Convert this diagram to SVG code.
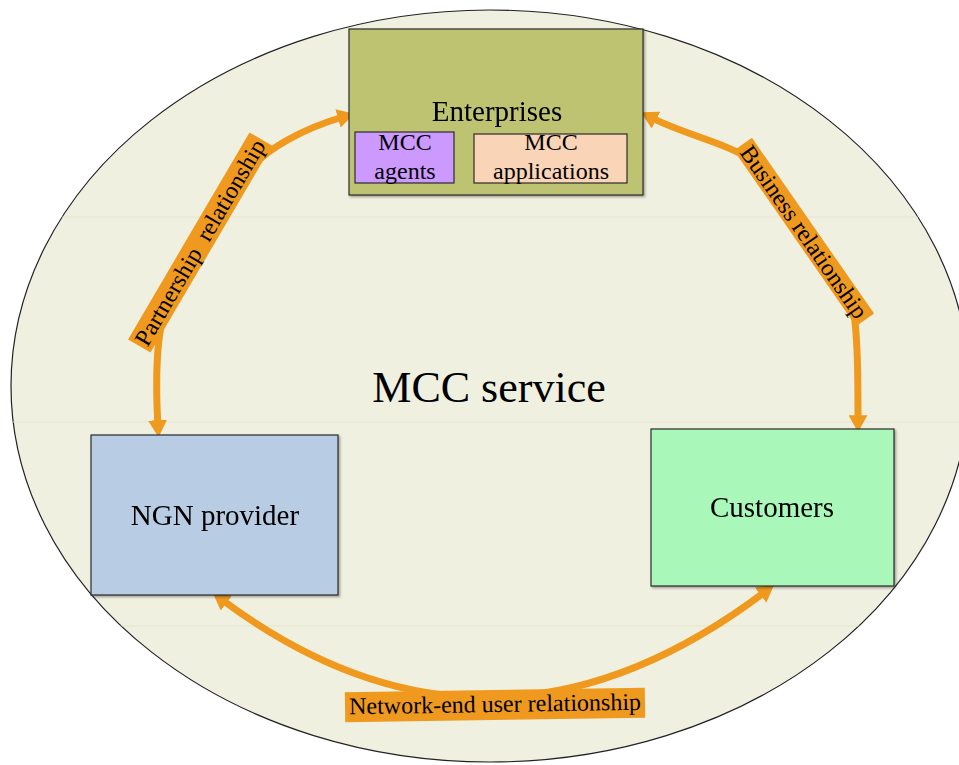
<svg xmlns="http://www.w3.org/2000/svg" width="959" height="765" viewBox="0 0 959 765">
  <style>
    .t { font-family: "Liberation Serif", "Times New Roman", serif; fill: #000; }
    .node { stroke: #2b2b2b; stroke-width: 1.2; }
    .conn { fill: none; stroke: #EF9A1E; stroke-width: 7; marker-start: url(#ah); marker-end: url(#ah); }
    .lbl { fill: #EF9A1E; }
    .grid { stroke: #E4E6CC; stroke-width: 1; }
  </style>
  <defs>
    <marker id="ah" viewBox="0 0 10 10" refX="4" refY="5" markerUnits="userSpaceOnUse" markerWidth="17" markerHeight="19" orient="auto-start-reverse" preserveAspectRatio="none">
      <path d="M0,0 L10,5 L0,10 z" fill="#EF9A1E"/>
    </marker>
    <clipPath id="ec">
      <ellipse cx="490" cy="386" rx="479" ry="376"/>
    </clipPath>
    <filter id="sh" x="-5%" y="-5%" width="110%" height="110%">
      <feDropShadow dx="1.5" dy="1.5" stdDeviation="1" flood-color="#000" flood-opacity="0.35"/>
    </filter>
  </defs>

  <rect width="959" height="765" fill="#fff"/>

  <g id="mcc-service">
    <ellipse cx="490" cy="386" rx="479" ry="376" fill="#EFF0E0" stroke="#222" stroke-width="1.2"/>
    <g clip-path="url(#ec)">
      <line class="grid" x1="0" y1="217" x2="959" y2="217"/>
      <line class="grid" x1="0" y1="422" x2="959" y2="422"/>
      <line class="grid" x1="0" y1="626" x2="959" y2="626"/>
    </g>
    <text class="t" x="489" y="402" font-size="44" text-anchor="middle">MCC service</text>
  </g>

  <g id="connectors">
    <path id="c-partnership" class="conn" d="M158,427 C155,375 157,338 164,313 L245,175 C265,148 305,128 344.5,116.5"/>
    <path id="c-business" class="conn" d="M650,117 C685,135 725,142 755,162 L852,302 C858,330 858,380 858,422"/>
    <path id="c-network" class="conn" d="M221,599 Q490,800 766,591"/>
  </g>

  <g id="enterprises" filter="url(#sh)">
    <rect class="node" x="349" y="29" width="294" height="166" fill="#BEC372"/>
    <text class="t" x="497" y="121" font-size="29" text-anchor="middle">Enterprises</text>
  </g>
  <g id="mcc-agents">
    <rect class="node" x="355" y="132" width="99" height="51" fill="#CC99FF"/>
    <text class="t" x="405" y="150" font-size="24" text-anchor="middle">MCC</text>
    <text class="t" x="405" y="179" font-size="24" text-anchor="middle">agents</text>
  </g>
  <g id="mcc-applications">
    <rect class="node" x="474" y="134" width="153" height="49" fill="#FAD4B6"/>
    <text class="t" x="551" y="150" font-size="24" text-anchor="middle">MCC</text>
    <text class="t" x="551" y="179" font-size="24" text-anchor="middle">applications</text>
  </g>

  <g id="ngn-provider" filter="url(#sh)">
    <rect class="node" x="91" y="435" width="247" height="160" fill="#B8CCE4"/>
    <text class="t" x="215" y="525" font-size="29" text-anchor="middle">NGN provider</text>
  </g>

  <g id="customers" filter="url(#sh)">
    <rect class="node" x="651" y="429" width="243" height="157" fill="#AAF8B9"/>
    <text class="t" x="772" y="517" font-size="29" text-anchor="middle">Customers</text>
  </g>

  <g id="label-partnership" transform="translate(200,242.5) rotate(-59.6)">
    <rect class="lbl" x="-120" y="-13" width="240" height="26"/>
    <text class="t" x="0" y="8" font-size="24" text-anchor="middle" xml:space="preserve">Partnership  relationship</text>
  </g>
  <g id="label-business" transform="translate(804,232) rotate(55.2)">
    <rect class="lbl" x="-107" y="-11" width="214" height="22"/>
    <text class="t" x="0" y="8" font-size="24" text-anchor="middle">Business relationship</text>
  </g>
  <g id="label-network" transform="translate(495,705) rotate(-0.9)">
    <rect class="lbl" x="-150" y="-15" width="300" height="30"/>
    <text class="t" x="0" y="7" font-size="24" text-anchor="middle">Network-end user relationship</text>
  </g>
</svg>
